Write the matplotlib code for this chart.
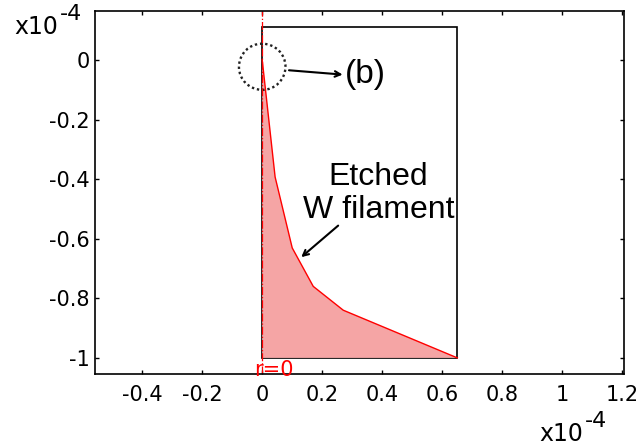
import matplotlib
matplotlib.use("Agg")
import matplotlib.pyplot as plt
from matplotlib.patches import Polygon, Rectangle, Ellipse

plt.rcParams["axes.unicode_minus"] = False

# filament profile, units of 1e-4 m
profile_r = [0.0, 0.043, 0.10, 0.17, 0.27, 0.65]
profile_z = [0.0, -0.393, -0.631, -0.76, -0.84, -1.0]

# simulation domain
domain_r = [0.0, 0.65]
domain_z = [-1.0, 0.112]

x_ticks = [-0.4, -0.2, 0, 0.2, 0.4, 0.6, 0.8, 1, 1.2]
y_ticks = [-1, -0.8, -0.6, -0.4, -0.2, 0]
x_labels = ["-0.4", "-0.2", "0", "0.2", "0.4", "0.6", "0.8", "1", "1.2"]
y_labels = ["-1", "-0.8", "-0.6", "-0.4", "-0.2", "0"]

fig = plt.figure(figsize=(6.4, 4.48), dpi=100)
ax = fig.add_axes([0.1484, 0.1652, 0.8266, 0.8108])
ax.set_xlim(-0.557, 1.205)
ax.set_ylim(-1.054, 0.165)

# domain box
ax.add_patch(Rectangle((domain_r[0], domain_z[0]), domain_r[1] - domain_r[0],
                       domain_z[1] - domain_z[0], fill=False, ec="black", lw=1.2))

# filament cross-section
pts = list(zip(profile_r, profile_z)) + [(0.0, -1.0)]
ax.add_patch(Polygon(pts, closed=True, fc="#f5a5a5", ec="none"))
ax.plot(profile_r, profile_z, color="red", lw=1.0)

# symmetry axis
ax.axvline(0, color="red", lw=0.9, ls="-.")
ax.text(-0.028, -1.008, "r=0", color="red", fontsize=15, ha="left", va="top",
        clip_on=False, zorder=5)

# tip detail marker
ax.add_patch(Ellipse((0.0, -0.023), 0.155, 0.155, fill=False, ec="#222222",
                     lw=1.7, ls=(0, (1, 1.2))))
ax.text(0.275, -0.05, "(b)", fontsize=24, family="Liberation Sans",
        va="center", ha="left")
ax.annotate("", xy=(0.277, -0.05), xytext=(0.08, -0.034),
            arrowprops=dict(arrowstyle="->", color="black", lw=1.5))

ax.text(0.387, -0.448, "Etched\nW filament", fontsize=23, family="Liberation Sans",
        ha="center", va="center", linespacing=1.15)
ax.annotate("", xy=(0.123, -0.668), xytext=(0.26, -0.55),
            arrowprops=dict(arrowstyle="->", color="black", lw=1.5))

ax.set_xticks(x_ticks)
ax.set_xticklabels(x_labels)
ax.set_yticks(y_ticks)
ax.set_yticklabels(y_labels)
ax.tick_params(direction="in", length=3, width=1, labelsize=15,
               top=True, right=True)
ax.tick_params(axis="x", pad=8)
ax.tick_params(axis="y", pad=4)
for s in ax.spines.values():
    s.set_linewidth(1.2)

# scale multipliers
fig.text(0.022, 0.925, "x10", fontsize=17)
fig.text(0.094, 0.955, "-4", fontsize=16)
fig.text(0.842, 0.015, "x10", fontsize=17)
fig.text(0.914, 0.047, "-4", fontsize=16)

fig.savefig("out.png", dpi=100)
